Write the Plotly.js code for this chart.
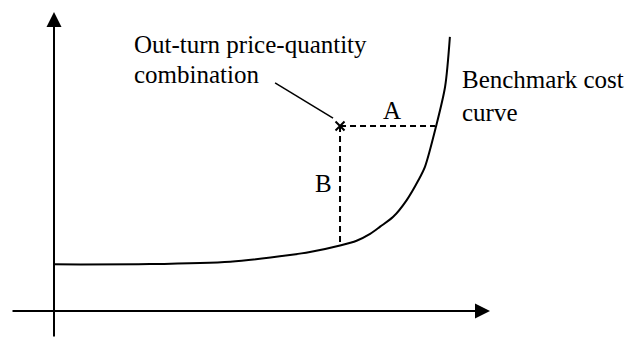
<!DOCTYPE html>
<html>
<head>
<meta charset="utf-8">
<script src="https://cdn.plot.ly/plotly-3.0.1.min.js"></script>
<style>html,body{margin:0;padding:0;background:#fff;}#chart{width:628px;height:338px;}</style>
</head>
<body>
<div id="chart"></div>
<script>
// Benchmark cost curve (quantity, cost) in abstract units
var curveQ = [0, 22.0, 40.4, 54.1, 58.7, 65.6, 69.4, 72.5, 74.8, 77.8, 80.9, 83.6, 85.1, 87.6, 89.7, 90.8];
var curveC = [15.6, 15.7, 16.5, 18.7, 19.7, 21.9, 23.5, 25.8, 28.2, 31.5, 37.1, 43.8, 48.3, 61.6, 75.0, 91.7];

// Out-turn price-quantity combination
var outQ = [65.6];
var outC = [61.9];

// Distance A (horizontal) and B (vertical) to the benchmark curve
var gapAQ = [65.6, 87.4];
var gapAC = [61.9, 61.9];
var gapBQ = [65.6, 65.6];
var gapBC = [61.9, 22.6];

// Axes extents
var xAxisQ = [-9.86, 100];
var yAxisC = [-9.03, 100];

// Leader line from label to point
var leaderQ = [50.7, 64.0];
var leaderC = [76.3, 64.5];

var labels = {
  out1: 'Out-turn price-quantity',
  out2: 'combination',
  bench1: 'Benchmark cost',
  bench2: 'curve',
  a: 'A',
  b: 'B'
};

var ink = '#000000';
var fontFam = '"Liberation Serif", "Times New Roman", serif';

var traces = [
  {x: curveQ, y: curveC, mode: 'lines', line: {color: ink, width: 2, shape: 'spline', smoothing: 0.8}, hoverinfo: 'skip'},
  {x: gapAQ, y: gapAC, mode: 'lines', line: {color: ink, width: 2, dash: '6px,4px'}, hoverinfo: 'skip'},
  {x: gapBQ, y: gapBC, mode: 'lines', line: {color: ink, width: 2, dash: '6px,4px'}, hoverinfo: 'skip'},
  {x: leaderQ, y: leaderC, mode: 'lines', line: {color: ink, width: 1.5}, hoverinfo: 'skip'},
  {x: outQ, y: outC, mode: 'markers', marker: {symbol: 'x-thin', size: 9, color: ink, line: {color: ink, width: 2}}, hoverinfo: 'skip'}
];

var txt = function (t, x, y, xanchor) {
  return {text: t, x: x, y: y, xref: 'x', yref: 'y', showarrow: false,
          xanchor: xanchor, yanchor: 'middle', font: {family: fontFam, size: 25, color: ink}};
};

var annotations = [
  // axes with arrowheads
  {x: xAxisQ[1], y: 0, ax: xAxisQ[0], ay: 0, xref: 'x', yref: 'y', axref: 'x', ayref: 'y',
   text: '', showarrow: true, arrowhead: 2, arrowsize: 1.5, arrowwidth: 2, arrowcolor: ink},
  {x: 0, y: yAxisC[1], ax: 0, ay: yAxisC[0], xref: 'x', yref: 'y', axref: 'x', ayref: 'y',
   text: '', showarrow: true, arrowhead: 2, arrowsize: 1.5, arrowwidth: 2, arrowcolor: ink},
  txt(labels.out1, 17.9, 89.0, 'left'),
  txt(labels.out2, 17.9, 79.0, 'left'),
  txt(labels.bench1, 93.1, 77.5, 'left'),
  txt(labels.bench2, 93.1, 66.3, 'left'),
  txt(labels.a, 77.5, 67.2, 'center'),
  txt(labels.b, 61.8, 42.8, 'center')
];

var layout = {
  width: 628, height: 338,
  margin: {l: 0, r: 0, t: 0, b: 0},
  paper_bgcolor: '#ffffff', plot_bgcolor: '#ffffff',
  showlegend: false,
  xaxis: {range: [-54 / 4.36, (628 - 54) / 4.36], visible: false, fixedrange: true},
  yaxis: {range: [-27 / 2.99, 311 / 2.99], visible: false, fixedrange: true},
  annotations: annotations
};

Plotly.newPlot('chart', traces, layout, {staticPlot: true, displayModeBar: false});
</script>
</body>
</html>
